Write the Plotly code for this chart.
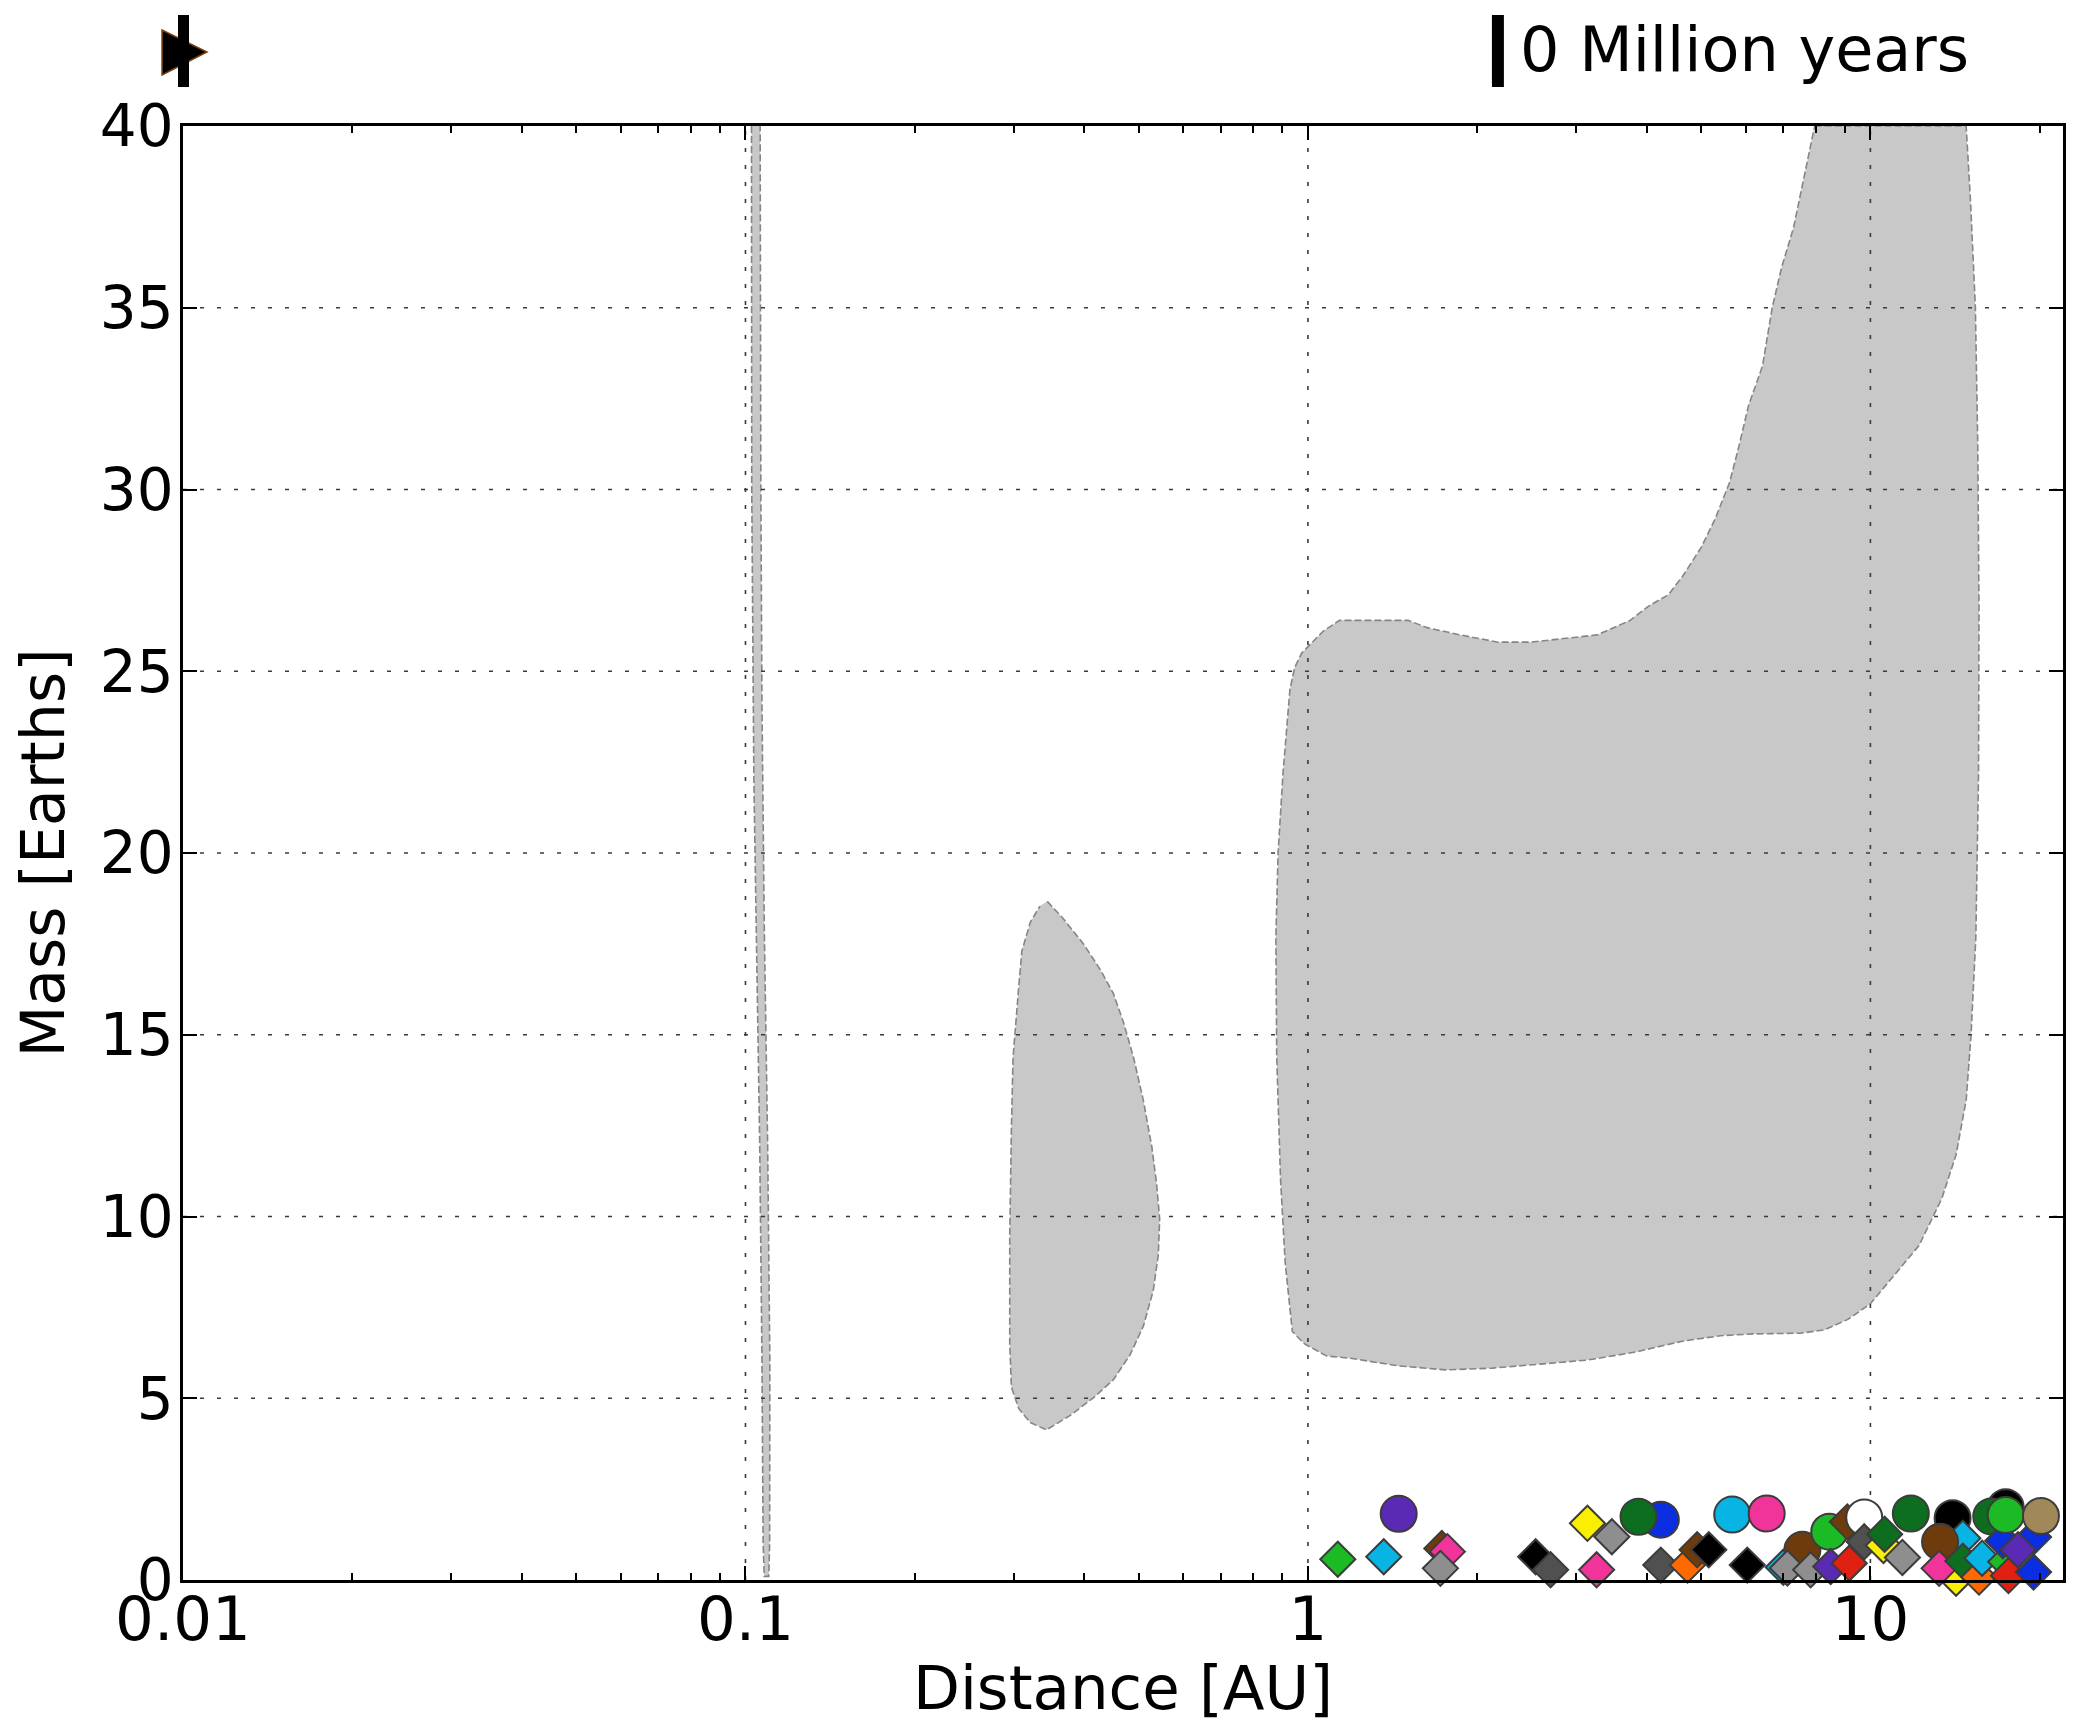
import math
import plotly.graph_objects as go

# ---------------- data ----------------
# shaded regions (distance [AU], mass [Earths]) traced along their boundaries
sliver_au = [0.1025, 0.1026, 0.1035, 0.1050, 0.1060, 0.1070, 0.1075, 0.1080,
             0.1100, 0.1104, 0.1105, 0.1095, 0.1080, 0.1070, 0.1065, 0.1062]
sliver_mass = [40, 30, 22, 16, 12, 6, 1, 0.1,
               0.1, 1, 6, 12, 18, 24, 30, 40]

blob_au = [0.344, 0.367, 0.399, 0.427, 0.451, 0.470, 0.490, 0.510, 0.528, 0.538,
           0.545, 0.542, 0.531, 0.510, 0.483, 0.451, 0.416, 0.378, 0.343, 0.321,
           0.306, 0.297, 0.295, 0.295, 0.297, 0.299, 0.306, 0.310, 0.321, 0.334]
blob_mass = [18.67, 18.2, 17.5, 16.8, 16.13, 15.34, 14.36, 13.18, 11.9, 10.92,
             9.94, 8.95, 7.97, 6.99, 6.2, 5.51, 5.02, 4.53, 4.13, 4.33,
             4.72, 5.31, 6.5, 9.44, 12.4, 14.36, 16.3, 17.3, 18.1, 18.54]

big_au = [7.96, 14.8, 15.07, 15.37, 15.52, 15.6, 15.57, 15.4, 15.1, 14.8, 14.2,
          13.4, 12.2, 11.06, 10.0, 9.12, 8.28, 7.51, 6.19, 5.41, 4.63, 3.82,
          3.14, 2.59, 2.13, 1.76, 1.45, 1.19, 1.08, 0.985, 0.938, 0.911, 0.894,
          0.88, 0.877, 0.885, 0.903, 0.929, 0.947, 0.975, 1.004, 1.064, 1.138,
          1.316, 1.507, 1.629, 1.865, 2.18, 2.49, 2.85, 3.27, 3.74, 4.04, 4.37,
          4.63, 5.0, 5.3, 5.62, 5.84, 6.07, 6.43, 6.69, 6.95, 7.3, 7.66, 7.96]
big_mass = [40, 40, 37.9, 35.0, 31.2, 26.7, 22.2, 17.7, 15.0, 13.2, 11.7,
            10.5, 9.2, 8.4, 7.6, 7.17, 6.88, 6.79, 6.77, 6.72, 6.57, 6.27,
            6.05, 5.94, 5.83, 5.78, 5.89, 6.1, 6.16, 6.5, 6.84, 8.74, 11.0,
            14.4, 17.7, 20.0, 22.2, 24.5, 25.1, 25.5, 25.7, 26.1, 26.4,
            26.4, 26.4, 26.2, 26.0, 25.8, 25.8, 25.9, 26.0, 26.4, 26.8, 27.1,
            27.6, 28.4, 29.2, 30.2, 31.2, 32.3, 33.4, 35.0, 36.1, 37.2, 38.8, 40]

# bodies: distance, mass, colour, kind (C = circle, D = diamond)
body_au = [1.13, 1.364, 1.45, 1.73, 1.77, 1.72, 2.54, 2.70, 3.14, 3.47, 3.26,
           4.24, 3.87, 4.24, 4.73, 4.92, 5.16, 5.68, 6.54, 6.04, 7.0, 7.57,
           7.12, 7.83, 8.45, 8.5, 9.17, 9.1, 9.75, 9.75, 10.55, 10.6, 11.4,
           11.8, 14.0, 14.6, 13.3, 14.2, 13.25, 14.6, 15.6, 15.8, 17.4, 16.4,
           17.4, 17.6, 17.2, 19.5, 18.3, 19.5, 17.4, 20.1]
body_mass = [0.57, 0.64, 1.82, 0.87, 0.78, 0.32, 0.64, 0.28, 1.56, 1.19, 0.28,
             1.66, 1.74, 0.41, 0.41, 0.83, 0.83, 1.80, 1.83, 0.41, 0.35, 0.83,
             0.33, 0.28, 1.33, 0.37, 0.46, 1.60, 1.72, 1.05, 0.95, 1.26, 0.62,
             1.83, 1.70, 1.15, 1.05, 0.05, 0.32, 0.52, 0.08, 0.60, 2.00, 1.75,
             0.50, 0.12, 1.08, 1.18, 0.83, 0.22, 1.79, 1.76]
body_color = ["green", "cyan", "purple", "brown", "pink", "gray", "black", "darkgray",
              "yellow", "gray", "pink", "blue", "darkgreen", "darkgray", "orange",
              "brown", "black", "cyan", "pink", "black", "cyan", "brown", "gray",
              "gray", "green", "purple", "red", "brown", "white", "darkgray",
              "yellow", "darkgreen", "gray", "darkgreen", "black", "cyan", "brown",
              "yellow", "pink", "darkgreen", "orange", "cyan", "black", "darkgreen",
              "green", "red", "blue", "blue", "purple", "blue", "green", "tan"]
body_kind = ["D", "D", "C", "D", "D", "D", "D", "D", "D", "D", "D",
             "C", "C", "D", "D", "D", "D", "C", "C", "D", "D", "C",
             "D", "D", "C", "D", "D", "D", "C", "D", "D", "D", "D",
             "C", "C", "D", "C", "D", "D", "D", "D", "D", "C", "C",
             "D", "D", "D", "D", "D", "D", "C", "C"]

palette = {"green": "#1cba24", "cyan": "#08b4e4", "purple": "#5a2ab4",
           "brown": "#6e3c0c", "pink": "#f0349a", "gray": "#8e8e8e",
           "black": "#000000", "darkgray": "#505050", "yellow": "#f8f000",
           "blue": "#0a2ee0", "darkgreen": "#0c6e1e", "orange": "#ff6a00",
           "red": "#e02010", "white": "#ffffff", "tan": "#a08858"}

x_ticks = [0.01, 0.1, 1, 10]
x_ticktext = ["0.01", "0.1", "1", "10"]
x_minor = [m * d for d in (0.01, 0.1, 1, 10) for m in range(2, 10) if m * d < 22]
y_ticks = [0, 5, 10, 15, 20, 25, 30, 35, 40]
x_max = 22
time_label = "0 Million years"

# ---------------- figure ----------------
fig = go.Figure()
fill = "#c8c8c8"
edge = dict(color="#858585", width=1.6, dash="7px,3px")
for rx, ry in ((sliver_au, sliver_mass), (blob_au, blob_mass), (big_au, big_mass)):
    fig.add_trace(go.Scatter(x=rx, y=ry, mode="lines", fill="toself", fillcolor=fill,
                             line=edge, hoverinfo="skip", showlegend=False))

grid = dict(color="#3a3a3a", width=1.6, dash="4px,13px")
for xv in x_ticks[1:]:
    fig.add_trace(go.Scatter(x=[xv, xv], y=[y_ticks[0], y_ticks[-1]], mode="lines",
                             line=grid, hoverinfo="skip", showlegend=False))
for yv in y_ticks[1:-1]:
    fig.add_trace(go.Scatter(x=[x_ticks[0], x_max], y=[yv, yv], mode="lines",
                             line=grid, hoverinfo="skip", showlegend=False))

fig.add_trace(go.Scatter(
    x=body_au, y=body_mass, mode="markers", showlegend=False,
    marker=dict(symbol=["circle" if k == "C" else "diamond" for k in body_kind],
                size=[36 if k == "C" else 27 for k in body_kind],
                color=[palette[c] for c in body_color],
                line=dict(color="#3c3c3c", width=2), opacity=1),
    cliponaxis=False))

# page geometry (the page body has an 8px margin)
OFF = 8
W, H = 2077 - 2 * OFF, 1731 - 2 * OFF
L, R, T, B = 183, 2066, 126, 1580          # plot area in page pixels
def px(x):
    return (x - L) / (R - L)
def py(y):
    return (B - y) / (B - T)

font = "DejaVu Sans, Verdana, sans-serif"
fig.update_layout(
    width=W, height=H,
    margin=dict(l=L - OFF, r=W - (R - OFF), t=T - OFF, b=H - (B - OFF), pad=0),
    paper_bgcolor="white", plot_bgcolor="white",
    font=dict(family=font, color="black", size=58),
    xaxis=dict(type="log", range=[-2, math.log10(x_max)], tickmode="array",
               tickvals=x_ticks, ticktext=x_ticktext, ticks="inside", ticklen=14,
               tickwidth=2, tickcolor="black", showline=True, linewidth=2.5,
               linecolor="black", mirror="ticks", showgrid=False, zeroline=False,
               tickfont=dict(size=61), ticklabelstandoff=-16,
               minor=dict(tickmode="array", tickvals=x_minor, ticks="inside",
                          ticklen=7, tickwidth=1.5, tickcolor="black", showgrid=False),
               title=dict(text="Distance [AU]", font=dict(size=61), standoff=18)),
    yaxis=dict(range=[0, 40], tickmode="array", tickvals=y_ticks, ticks="inside",
               ticklen=14, tickwidth=2, tickcolor="black", showline=True,
               linewidth=2.5, linecolor="black", mirror="ticks", showgrid=False,
               zeroline=False, tickfont=dict(size=58), ticklabelstandoff=-5,
               title=dict(text="Mass [Earths]", font=dict(size=60), standoff=17)),
    shapes=[
        dict(type="path", xref="paper", yref="paper",
             path=f"M {px(162)} {py(30)} L {px(162)} {py(75)} L {px(207)} {py(52)} Z",
             fillcolor="black", line=dict(color="#7a4010", width=1.5)),
        dict(type="rect", xref="paper", yref="paper", x0=px(178), x1=px(189),
             y0=py(87), y1=py(15), fillcolor="black", line=dict(width=0)),
        dict(type="rect", xref="paper", yref="paper", x0=px(1494), x1=px(1506),
             y0=py(87), y1=py(15), fillcolor="black", line=dict(width=0)),
    ],
    annotations=[dict(text=time_label, xref="paper", yref="paper", x=px(1520),
                      y=py(50), xanchor="left", yanchor="middle", showarrow=False,
                      font=dict(size=62, family=font, color="black"))],
)

fig.write_html("out.html")
